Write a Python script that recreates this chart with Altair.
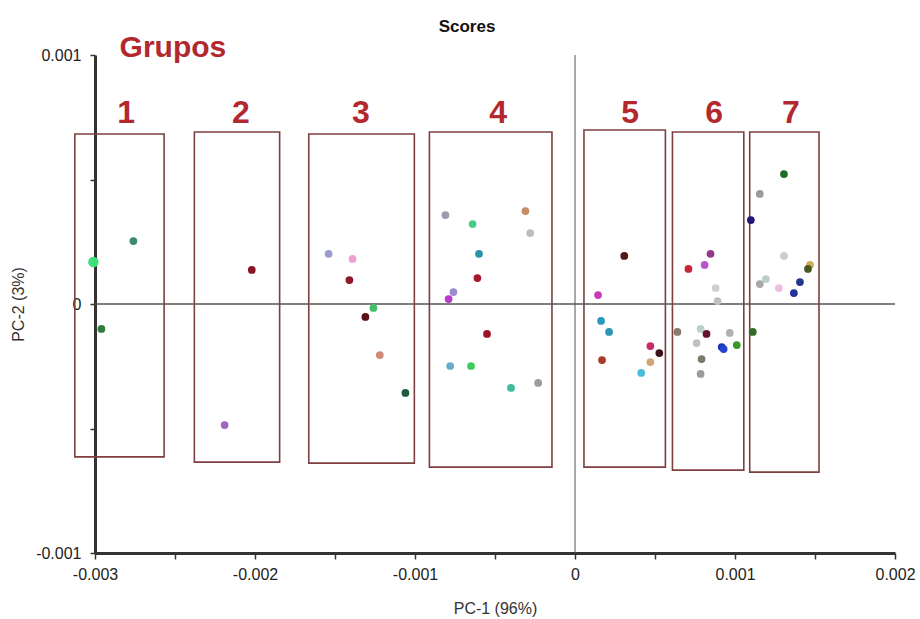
import altair as alt
import pandas as pd

# ---- point scores (PC-1, PC-2) and colours ----
pc1 = [
    -0.00301, -0.00276, -0.00296,
    -0.00202, -0.00219,
    -0.00154, -0.00139, -0.00141, -0.00126, -0.00131, -0.00122, -0.00106,
    -0.00081, -0.00064, -0.00031, -0.00028, -0.00060, -0.00061, -0.00076, -0.00079,
    -0.00055, -0.00078, -0.00065, -0.00040, -0.00023,
    0.000308, 0.000144, 0.000163, 0.000213, 0.000169, 0.000471, 0.000527, 0.000471, 0.000414,
    0.000709, 0.000810, 0.000847, 0.000879, 0.000891, 0.000640, 0.000785, 0.000822,
    0.000760, 0.000967, 0.000917, 0.000929, 0.001011, 0.000791, 0.000785,
    0.001306, 0.001155, 0.001099, 0.001306, 0.001469, 0.001456, 0.001406, 0.001193,
    0.001155, 0.001274, 0.001368, 0.001111,
]
pc2 = [
    0.000169, 0.000253, -0.000100,
    0.000137, -0.000486,
    0.000201, 0.000181, 0.000096, -0.000016, -0.000052, -0.000205, -0.000357,
    0.000357, 0.000321, 0.000373, 0.000285, 0.000201, 0.000104, 0.000048, 0.000020,
    -0.000120, -0.000249, -0.000249, -0.000337, -0.000317,
    0.000193, 0.000036, -0.000068, -0.000112, -0.000225, -0.000169, -0.000197, -0.000233, -0.000277,
    0.000141, 0.000157, 0.000201, 0.000064, 0.000012, -0.000112, -0.000100, -0.000120,
    -0.000157, -0.000116, -0.000173, -0.000181, -0.000165, -0.000221, -0.000281,
    0.000522, 0.000442, 0.000337, 0.000193, 0.000157, 0.000141, 0.000088, 0.000100,
    0.000080, 0.000064, 0.000044, -0.000112,
]
colors = [
    "#3de07a", "#3a8a72", "#2f7d3e",
    "#8b1525", "#a066c0",
    "#9a9acb", "#ef9fd0", "#8c1a22", "#3fbf6a", "#5a1118", "#cf8a78", "#1e5a3c",
    "#9c9aaa", "#4cc98c", "#c98a66", "#bcbcbc", "#2a93a8", "#a8162e", "#9a8ccc", "#b93acb",
    "#9a1426", "#6aaacc", "#3ccc5a", "#3dbd9b", "#9c9c9c",
    "#571616", "#c93bbd", "#2a9abc", "#2a95b5", "#a83a26", "#c92a6a", "#3a1418", "#d0a878", "#4cbcdc",
    "#c82636", "#bb55cc", "#93388f", "#cfcfcf", "#c0c0c0", "#8a7b6c", "#bfcfcf", "#66122a",
    "#c0c0c0", "#b0b0b0", "#1535bb", "#2345cc", "#36992a", "#7a7a6c", "#9c9c9c",
    "#226b26", "#9c9c9c", "#23157a", "#cccccc", "#d0ac55", "#475a22", "#22388c", "#bccccc",
    "#a8a8a8", "#f0bcdc", "#22309c", "#356b26",
]
sizes = [110] + [60] * (len(pc1) - 1)

# ---- group boxes ----
box_label = ["1", "2", "3", "4", "5", "6", "7"]
box_x1 = [-0.003126, -0.002379, -0.001664, -0.000910, 0.000056, 0.000609, 0.001092]
box_x2 = [-0.002568, -0.001846, -0.001004, -0.000144, 0.000565, 0.001055, 0.001525]
box_y1 = [0.000683, 0.000691, 0.000683, 0.000691, 0.000699, 0.000691, 0.000691]
box_y2 = [-0.000614, -0.000635, -0.000639, -0.000655, -0.000655, -0.000667, -0.000675]
label_x = [-0.002806, -0.002088, -0.001338, -0.000481, 0.000344, 0.000869, 0.001350]
label_y = [0.000767] * 7

# ---- annotations: legend word and chart title ----
ann_text = ["Grupos", "Scores"]
ann_x = [-0.002513, -0.000675]
ann_y = [0.001028, 0.001112]
ann_size = [30, 17]
ann_color = ["#b3282e", "#111111"]

x_ticks = [-0.003, -0.0025, -0.002, -0.0015, -0.001, -0.0005, 0, 0.0005, 0.001, 0.0015, 0.002]
y_ticks = [-0.001, -0.0005, 0, 0.0005, 0.001]

pts = pd.DataFrame({"x": pc1, "y": pc2, "c": colors, "s": sizes})
boxes = pd.DataFrame({"g": box_label, "x1": box_x1, "x2": box_x2, "y1": box_y1, "y2": box_y2,
                      "lx": label_x, "ly": label_y})
ann = pd.DataFrame({"t": ann_text, "x": ann_x, "y": ann_y, "fs": ann_size, "c": ann_color})
zero = pd.DataFrame({"v": [0]})

RED = "#b3282e"
label_expr = "abs(round(datum.value*10000)) % 10 == 0 ? '' + round(datum.value*1000)/1000 : ''"

xscale = alt.Scale(domain=[-0.003, 0.002], nice=False, zero=False)
yscale = alt.Scale(domain=[-0.001, 0.001], nice=False, zero=False)

xaxis = alt.Axis(values=x_ticks, labelExpr=label_expr, grid=False, domainWidth=3,
                 domainColor="#333333", tickColor="#333333", tickSize=6, tickWidth=1.5,
                 labelFontSize=16, labelColor="#222222", labelPadding=7, labelFlush=False,
                 title="PC-1 (96%)", titleFontSize=16, titleFontWeight="normal",
                 titleColor="#333333", titleX=400, titleY=55, titleBaseline="middle")
yaxis = alt.Axis(values=y_ticks, labelExpr=label_expr, grid=False, domainWidth=3,
                 domainColor="#333333", tickColor="#333333", tickSize=5, tickWidth=1.5,
                 labelFontSize=16, labelColor="#222222", labelPadding=9, labelFlush=False,
                 title="PC-2 (3%)", titleFontSize=16, titleFontWeight="normal",
                 titleColor="#333333", titleX=-77, titleY=249, titleAngle=-90,
                 titleBaseline="middle", titleAlign="center")

rects = alt.Chart(boxes).mark_rect(fill="transparent", stroke="#7d3f3f", strokeWidth=1.6).encode(
    x=alt.X("x1:Q", scale=xscale, axis=xaxis), x2="x2:Q",
    y=alt.Y("y1:Q", scale=yscale, axis=yaxis), y2="y2:Q",
)
vrule = alt.Chart(zero).mark_rule(color="#555555", strokeWidth=1).encode(x=alt.X("v:Q", scale=xscale))
hrule = alt.Chart(zero).mark_rule(color="#555555", strokeWidth=1.5).encode(y=alt.Y("v:Q", scale=yscale))
points = alt.Chart(pts).mark_circle(opacity=1).encode(
    x=alt.X("x:Q", scale=xscale), y=alt.Y("y:Q", scale=yscale),
    color=alt.Color("c:N", scale=None), size=alt.Size("s:Q", scale=None),
)
nums = alt.Chart(boxes).mark_text(fontSize=32, fontWeight="bold", color=RED, baseline="middle",
                                  align="center").encode(
    x=alt.X("lx:Q", scale=xscale), y=alt.Y("ly:Q", scale=yscale), text="g:N")
annots = alt.Chart(ann).mark_text(fontWeight="bold", baseline="middle", align="center").encode(
    x=alt.X("x:Q", scale=xscale), y=alt.Y("y:Q", scale=yscale), text="t:N",
    size=alt.Size("fs:Q", scale=None), color=alt.Color("c:N", scale=None))

chart = alt.layer(rects, vrule, hrule, points, nums, annots).properties(
    width=800, height=498,
    autosize=alt.AutoSizeParams(type="none"),
    padding={"left": 95, "top": 55, "right": 25, "bottom": 66},
).configure(font="Liberation Sans").configure_view(stroke=None)

chart.save("out.html", embed_options={"renderer": "svg", "actions": False})
